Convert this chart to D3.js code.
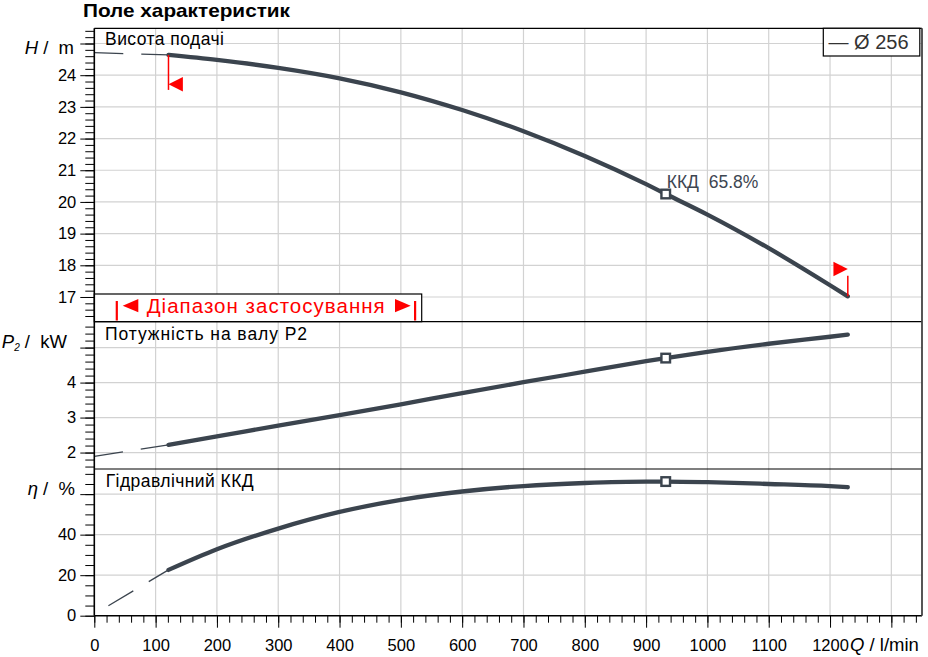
<!DOCTYPE html>
<html>
<head>
<meta charset="utf-8">
<script src="https://d3js.org/d3.v7.min.js"></script>
<style>
  body { margin: 0; background: #fff; }
  svg { font-family: 'Liberation Sans', Arial, sans-serif; display: block; }
</style>
</head>
<body>
<div id="chart"></div>
<script>
// working range of the pump curve (Q in l/min)
var flowQ   = [121, 200, 300, 400, 500, 600, 700, 800, 900, 932, 1000, 1100, 1200, 1229];
var headH   = [24.64, 24.48, 24.23, 23.90, 23.46, 22.90, 22.23, 21.45, 20.56, 20.25, 19.60, 18.54, 17.37, 17.02];
var powerP2 = [2.22, 2.46, 2.77, 3.07, 3.38, 3.70, 4.01, 4.31, 4.61, 4.70, 4.88, 5.11, 5.31, 5.37];
var effEta  = [22.6, 32.8, 43.0, 51.2, 57.2, 61.3, 64.0, 65.5, 66.2, 66.2, 65.9, 65.0, 63.9, 63.4];

// thin dashed lead-in below the working range
var leadQ    = [0, 121];
var leadH    = [24.71, 24.64];
var leadP2   = [1.89, 2.22];
var leadEtaQ = [23, 121];
var leadEta  = [4.9, 22.6];

var dutyQ = 932;
var dutyText = "ККД  65.8%";
var rangeEnds = [121, 1229];

var qTicks   = [0, 100, 200, 300, 400, 500, 600, 700, 800, 900, 1000, 1100, 1200];
var hTicks   = [17, 18, 19, 20, 21, 22, 23, 24];
var p2Ticks  = [2, 3, 4];
var etaTicks = [0, 20, 40];

var W = 928, H = 657;
var L = 94.3, R = 922, T = 28.3, B = 615.7;
var cut1 = 321.7, cut2 = 469;
var ink = "#3b444e";

var svg = d3.select("#chart").append("svg").attr("width", W).attr("height", H);

var x   = d3.scaleLinear().domain([0, 1350]).range([L, R]);
var yH  = d3.scaleLinear().domain([16.22, 25.48]).range([cut1, T]);
var yP  = d3.scaleLinear().domain([1.53, 5.74]).range([cut2, cut1]);
var yE  = d3.scaleLinear().domain([0, 72.4]).range([B, cut2]);

function range(a, b, s) { var r = []; for (var v = a; v <= b + 1e-9; v += s) r.push(+v.toFixed(3)); return r; }

// grid
var grid = svg.append("g").attr("stroke", "#d2d2d2").attr("stroke-width", 1.2);
d3.range(1, 14).forEach(function (i) {
  grid.append("line").attr("x1", x(i * 100)).attr("x2", x(i * 100)).attr("y1", T).attr("y2", B);
});
hTicks.concat([25]).forEach(function (v) {
  grid.append("line").attr("x1", L).attr("x2", R).attr("y1", yH(v)).attr("y2", yH(v));
});
p2Ticks.concat([5]).forEach(function (v) {
  grid.append("line").attr("x1", L).attr("x2", R).attr("y1", yP(v)).attr("y2", yP(v));
});
[20, 40, 60].forEach(function (v) {
  grid.append("line").attr("x1", L).attr("x2", R).attr("y1", yE(v)).attr("y2", yE(v));
});

// axes (minor + major)
function leftAxis(scale, minor, major, labels) {
  var g1 = svg.append("g").attr("transform", "translate(" + L + ",0)")
    .call(d3.axisLeft(scale).tickValues(minor).tickSize(9).tickFormat(""));
  var g2 = svg.append("g").attr("transform", "translate(" + L + ",0)")
    .call(d3.axisLeft(scale).tickValues(major).tickSize(14).tickPadding(4)
      .tickFormat(function (d) { return labels.indexOf(d) >= 0 ? d : ""; }));
  [g1, g2].forEach(function (g) { g.select(".domain").remove(); g.selectAll("line").attr("stroke", "#000"); });
  g2.selectAll("text").attr("font-size", 16.5).attr("fill", "#000").attr("font-family", "'Liberation Sans', Arial, sans-serif");
}
leftAxis(yH, range(16.4, 25.4, 0.2), hTicks.concat([25]), hTicks);
leftAxis(yP, range(1.6, 5.6, 0.2), p2Ticks.concat([5]), p2Ticks);
leftAxis(yE, range(0, 70, 5), etaTicks.concat([60]), etaTicks);

var gx1 = svg.append("g").attr("transform", "translate(0," + B + ")")
  .call(d3.axisBottom(x).tickValues(range(0, 1340, 20)).tickSize(7).tickFormat(""));
var gx2 = svg.append("g").attr("transform", "translate(0," + B + ")")
  .call(d3.axisBottom(x).tickValues(qTicks.concat([1300])).tickSize(12).tickPadding(11.5)
    .tickFormat(function (d) { return qTicks.indexOf(d) >= 0 ? d : ""; }));
[gx1, gx2].forEach(function (g) { g.select(".domain").remove(); g.selectAll("line").attr("stroke", "#000"); });
gx2.selectAll("text").attr("font-size", 16.5).attr("fill", "#000").attr("font-family", "'Liberation Sans', Arial, sans-serif");

// axis titles
var t1 = svg.append("text").attr("x", 74).attr("y", 53.5).attr("text-anchor", "end").attr("font-size", 18.5)
  .attr("xml:space", "preserve").style("white-space", "pre");
t1.append("tspan").attr("font-style", "italic").text("H");
t1.append("tspan").text(" /  m");
var t2 = svg.append("text").attr("x", 67).attr("y", 348).attr("text-anchor", "end").attr("font-size", 18.5)
  .attr("xml:space", "preserve").style("white-space", "pre");
t2.append("tspan").attr("font-style", "italic").text("P");
t2.append("tspan").attr("font-style", "italic").attr("font-size", 10).attr("dy", 3).text("2");
t2.append("tspan").attr("dy", -3).text(" /  kW");
var t3 = svg.append("text").attr("x", 75).attr("y", 495).attr("text-anchor", "end").attr("font-size", 18.5)
  .attr("xml:space", "preserve").style("white-space", "pre");
t3.append("tspan").attr("font-style", "italic").text("η");
t3.append("tspan").text(" /  %");
var t4 = svg.append("text").attr("x", 850).attr("y", 650.7).attr("font-size", 18.5);
t4.append("tspan").attr("font-style", "italic").text("Q");
t4.append("tspan").text(" / l/min");

svg.append("text").attr("x", 83).attr("y", 16.7).attr("font-size", 18.5).attr("font-weight", "bold")
  .attr("textLength", 207).attr("lengthAdjust", "spacingAndGlyphs")
  .text("Поле характеристик");

// panel titles
svg.append("text").attr("x", 105).attr("y", 45).attr("font-size", 17.5)
  .attr("textLength", 119).attr("lengthAdjust", "spacing").text("Висота подачі");
svg.append("text").attr("x", 105).attr("y", 340).attr("font-size", 17.5)
  .attr("textLength", 202).attr("lengthAdjust", "spacing").text("Потужність на валу  P2");
svg.append("text").attr("x", 105.7).attr("y", 486.7).attr("font-size", 17.5)
  .attr("textLength", 148).attr("lengthAdjust", "spacing").text("Гідравлічний ККД");

// curves
function drawSeries(qs, vs, scale, thick) {
  var pts = qs.map(function (q, i) { return [x(q), scale(vs[i])]; });
  var line = d3.line().curve(thick ? d3.curveMonotoneX : d3.curveLinear);
  var p = svg.append("path").attr("d", line(pts)).attr("fill", "none").attr("stroke", ink);
  if (thick) p.attr("stroke-width", 4.3).attr("stroke-linecap", "round").attr("stroke-linejoin", "round");
  else p.attr("stroke-width", 1.3).attr("stroke-dasharray", "29,18");
}
drawSeries(leadQ, leadH, yH, false);
drawSeries(leadQ, leadP2, yP, false);
drawSeries(leadEtaQ, leadEta, yE, false);
drawSeries(flowQ, headH, yH, true);
drawSeries(flowQ, powerP2, yP, true);
drawSeries(flowQ, effEta, yE, true);

// duty point markers
var di = flowQ.indexOf(dutyQ);
[[headH, yH], [powerP2, yP], [effEta, yE]].forEach(function (s) {
  svg.append("rect").attr("x", x(dutyQ) - 4.3).attr("y", s[1](s[0][di]) - 4.3)
    .attr("width", 8.6).attr("height", 8.6).attr("fill", "#fff").attr("stroke", ink).attr("stroke-width", 2.4);
});
svg.append("text").attr("x", x(dutyQ) + 1).attr("y", yH(headH[di]) - 6.5)
  .attr("font-size", 17.5).attr("fill", "#3d4651").attr("xml:space", "preserve").style("white-space", "pre")
  .text(dutyText);

// red range markers on the head curve
var red = "#ff0000";
var xa = x(rangeEnds[0]), ya = yH(headH[0]);
svg.append("line").attr("x1", xa).attr("x2", xa).attr("y1", ya).attr("y2", ya + 35).attr("stroke", red).attr("stroke-width", 1.5);
svg.append("path").attr("d", "M" + xa + "," + (ya + 29.3) + "L" + (xa + 14.4) + "," + (ya + 22) + "L" + (xa + 14.4) + "," + (ya + 36.5) + "Z").attr("fill", red);
var xb = x(rangeEnds[1]), yb = yH(headH[headH.length - 1]);
svg.append("line").attr("x1", xb).attr("x2", xb).attr("y1", yb).attr("y2", yb - 20.5).attr("stroke", red).attr("stroke-width", 1.5);
svg.append("path").attr("d", "M" + (xb - 14.4) + "," + (yb - 34.6) + "L" + xb + "," + (yb - 27.3) + "L" + (xb - 14.4) + "," + (yb - 20) + "Z").attr("fill", red);

// application range box
svg.append("rect").attr("x", L).attr("y", 294).attr("width", 327.4).attr("height", cut1 - 294)
  .attr("fill", "#fff").attr("stroke", "#000").attr("stroke-width", 1.2);
svg.append("rect").attr("x", 115.7).attr("y", 301).attr("width", 2.2).attr("height", 19.5).attr("fill", red);
svg.append("rect").attr("x", 414).attr("y", 301).attr("width", 2.2).attr("height", 19.5).attr("fill", red);
svg.append("path").attr("d", "M122.7,305.7L138.3,299L138.3,312.3Z").attr("fill", red);
svg.append("path").attr("d", "M410.7,305.7L395,299L395,312.3Z").attr("fill", red);
svg.append("text").attr("x", 146.7).attr("y", 313.3).attr("font-size", 20.5).attr("fill", red)
  .attr("textLength", 238).attr("lengthAdjust", "spacing").text("Діапазон застосування");

// frame and panel separators
var fr = svg.append("g").attr("stroke", "#000").attr("stroke-width", 1.2);
fr.append("line").attr("x1", L).attr("x2", R).attr("y1", T).attr("y2", T);
fr.append("line").attr("x1", L).attr("x2", R).attr("y1", cut1).attr("y2", cut1);
fr.append("line").attr("x1", L).attr("x2", R).attr("y1", cut2).attr("y2", cut2);
fr.append("line").attr("x1", L).attr("x2", R).attr("y1", B).attr("y2", B).attr("stroke-width", 1.6);
fr.append("line").attr("x1", L).attr("x2", L).attr("y1", T).attr("y2", B).attr("stroke-width", 1.6);
fr.append("line").attr("x1", R).attr("x2", R).attr("y1", T).attr("y2", B).attr("stroke", "#444").attr("stroke-width", 1.8);

// legend
svg.append("rect").attr("x", 823.3).attr("y", T).attr("width", 96.5).attr("height", 27.7)
  .attr("fill", "#fff").attr("stroke", "#000").attr("stroke-width", 1.2);
svg.append("text").attr("x", 828.5).attr("y", 49).attr("font-size", 20).attr("fill", "#333")
  .text("— Ø 256");
</script>
</body>
</html>
